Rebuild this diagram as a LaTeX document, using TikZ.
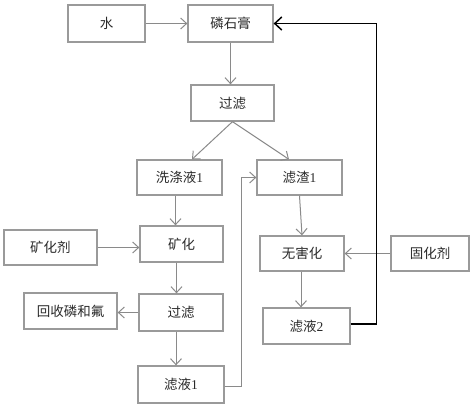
\documentclass[tikz,border=0pt]{standalone}
\usepackage{fontspec}
\newfontfamily\cjk{Noto Sans CJK SC}
\setmainfont{Liberation Serif}
\usetikzlibrary{arrows.meta,calc}
\definecolor{boxgray}{HTML}{9A9A9A}
\definecolor{arrgray}{HTML}{8A8A8A}
\definecolor{txt}{HTML}{2A2A2A}
\tikzset{
  box/.style={draw=boxgray, line width=1.3pt, minimum height=36pt, inner sep=0pt,
    font=\cjk\fontsize{13.5}{13.5}\selectfont, text=txt, anchor=center},
  arr/.style={draw=arrgray, line width=1pt, -{Straight Barb[length=6pt,width=11pt,line width=1pt]}},
  blk/.style={draw=black, line width=1.5pt, -{Straight Barb[length=7pt,width=13pt,line width=1.5pt]}}
}
\begin{document}
\begin{tikzpicture}[x=1pt,y=-1pt]
\useasboundingbox (0,0) rectangle (474,408);
\node[box, minimum width=77pt, minimum height=37pt] (water) at (106.5,23.5) {水};
\node[box, minimum width=85pt, minimum height=37pt] (lsg) at (230.5,23.5) {磷石膏};
\node[box, minimum width=83pt] (gl1) at (232.5,103) {过滤};
\node[box, minimum width=85pt, minimum height=35pt] (xdy) at (179.5,177.5) {洗涤液{\rmfamily 1}};
\node[box, minimum width=85pt, minimum height=35pt] (lz1) at (299.5,177.5) {滤渣{\rmfamily 1}};
\node[box, minimum width=93pt, minimum height=35pt] (khj) at (50.5,247.5) {矿化剂};
\node[box, minimum width=83pt] (kh) at (181.5,244) {矿化};
\node[box, minimum width=84pt, minimum height=35pt] (whh) at (302,253.5) {无害化};
\node[box, minimum width=78pt, minimum height=35pt] (ghj) at (430,253.5) {固化剂};
\node[box, minimum width=93pt] (hs) at (70.5,311) {回收磷和氟};
\node[box, minimum width=84pt, minimum height=37pt] (gl2) at (181,312.5) {过滤};
\node[box, minimum width=86pt, minimum height=37pt] (ly1) at (181,384.5) {滤液{\rmfamily 1}};
\node[box, minimum width=87pt] (ly2) at (306.5,326) {滤液{\rmfamily 2}};

\draw[arr] (water.east) -- (lsg.west);
\draw[arr] (lsg.south) -- (gl1.north -| lsg.south);
\draw[arr] (gl1.south) -- ([xshift=12.5pt]xdy.north);
\draw[arr] (gl1.south) -- ([xshift=-10.5pt]lz1.north);
\draw[arr] ([xshift=-4pt]xdy.south) -- ([xshift=-4pt]xdy.south |- kh.north);
\draw[arr] (khj.east) -- (khj.east -| kh.west);
\draw[arr] ([xshift=-5pt]kh.south) -- ([xshift=-5pt]kh.south |- gl2.north);
\draw[arr] (gl2.west) -- (gl2.west -| hs.east);
\draw[arr] ([xshift=-5pt]gl2.south) -- ([xshift=-5pt]gl2.south |- ly1.north);
\draw[arr] ([yshift=-1.5pt]ly1.east) -- ++(17,0) |- (lz1.west);
\draw[arr] (lz1.south) -- (whh.north);
\draw[arr] (ghj.west) -- (whh.east);
\draw[arr] ([xshift=-1pt]whh.south) -- ([xshift=-1pt]whh.south |- ly2.north);
\draw[blk] ([yshift=2pt]ly2.east) -- ++(26,0) |- (lsg.east);
\end{tikzpicture}
\end{document}
